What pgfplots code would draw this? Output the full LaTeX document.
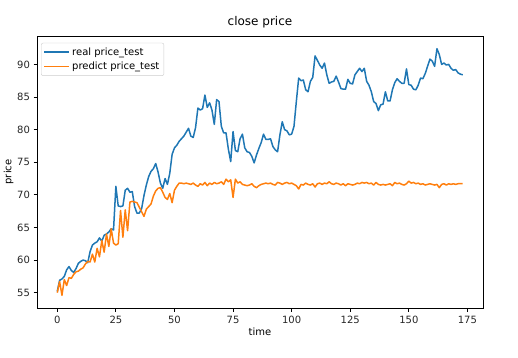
\documentclass[border=0pt]{standalone}
\usepackage{fontspec}
\setmainfont{DejaVu Sans}
\usepackage{pgfplots}
\usepackage{pgfplotstable}
\pgfplotsset{compat=1.18}
\definecolor{cA}{HTML}{1F77B4}
\definecolor{cB}{HTML}{FF7F0E}
\pgfplotstableread{
t real pred
0 55.2 55.0
1 56.9 56.7
2 57.1 54.6
3 57.5 57.0
4 58.5 56.1
5 59.0 57.3
6 58.4 57.2
7 58.1 57.8
8 58.7 58.2
9 59.5 58.3
10 59.8 58.6
11 60.0 58.8
12 59.9 59.4
13 59.6 59.8
14 61.3 59.7
15 62.3 60.9
16 62.6 59.7
17 62.8 61.8
18 63.4 60.5
19 62.9 63.0
20 63.8 61.2
21 64.0 64.0
22 64.3 62.1
23 64.8 64.8
24 64.6 62.6
25 71.3 62.3
26 68.3 62.5
27 68.2 67.6
28 68.3 63.5
29 70.7 67.7
30 71.0 64.5
31 70.4 68.9
32 70.5 69.0
33 68.2 68.9
34 67.2 68.8
35 67.2 68.1
36 67.9 67.4
37 69.9 66.7
38 71.5 67.8
39 72.8 68.2
40 73.6 68.6
41 74.0 69.8
42 74.8 70.6
43 73.5 71.0
44 71.8 71.1
45 71.0 70.4
46 72.5 69.6
47 71.6 69.3
48 73.3 70.2
49 76.2 68.8
50 77.2 70.7
51 77.6 71.3
52 78.2 71.8
53 78.6 71.8
54 79.0 71.7
55 79.6 71.8
56 80.2 71.7
57 79.0 71.6
58 78.8 71.8
59 80.3 71.5
60 83.3 71.3
61 83.0 71.7
62 83.2 71.5
63 85.3 71.9
64 83.4 71.4
65 84.1 71.8
66 83.0 71.6
67 80.8 71.9
68 84.6 71.7
69 84.3 71.8
70 80.5 72.0
71 79.5 71.6
72 79.5 72.4
73 77.0 72.0
74 75.1 72.3
75 79.7 69.6
76 76.8 72.4
77 76.6 71.8
78 78.6 72.0
79 79.3 71.6
80 77.2 71.5
81 76.6 71.4
82 76.5 71.5
83 75.9 71.7
84 74.9 71.3
85 76.1 71.1
86 77.1 71.4
87 78.0 71.6
88 79.3 71.7
89 78.5 71.8
90 78.5 71.7
91 78.6 71.8
92 77.4 71.6
93 76.9 71.5
94 76.6 71.9
95 79.2 71.8
96 81.2 71.6
97 80.0 71.8
98 79.8 71.9
99 79.2 71.7
100 79.3 71.8
101 80.5 71.6
102 84.3 71.4
103 87.9 70.9
104 87.5 71.6
105 87.6 71.5
106 86.1 71.8
107 85.8 71.6
108 87.4 71.5
109 88.0 71.7
110 91.3 71.2
111 90.6 71.7
112 89.9 71.8
113 89.4 71.6
114 90.2 71.8
115 88.4 71.7
116 87.1 72.0
117 87.3 71.7
118 87.4 71.6
119 88.2 71.8
120 87.3 71.7
121 86.3 71.5
122 86.2 71.7
123 86.2 71.4
124 87.7 71.7
125 87.1 71.6
126 87.0 71.5
127 88.4 71.6
128 88.9 71.8
129 89.4 71.7
130 88.9 71.9
131 89.4 71.8
132 87.4 71.9
133 86.8 71.7
134 85.8 71.8
135 84.3 71.5
136 84.0 71.9
137 82.9 71.6
138 83.8 71.5
139 83.9 71.6
140 85.8 71.5
141 84.4 71.6
142 84.4 71.7
143 86.1 71.4
144 87.2 71.9
145 87.8 71.7
146 87.4 71.8
147 87.1 71.6
148 87.1 71.5
149 89.3 71.7
150 86.9 72.1
151 86.8 71.8
152 86.2 71.9
153 86.1 71.7
154 86.8 71.8
155 87.9 71.6
156 87.8 71.7
157 88.6 71.5
158 89.7 71.6
159 90.8 71.7
160 90.5 71.6
161 89.7 71.5
162 92.4 71.6
163 91.5 71.1
164 90.0 71.6
165 90.2 71.7
166 89.9 71.5
167 90.0 71.7
168 89.4 71.6
169 89.1 71.7
170 89.2 71.6
171 88.7 71.7
172 88.5 71.7
173 88.4 71.7
}\datatable
\begin{document}
\begin{tikzpicture}
\path[use as bounding box] (-37pt,-49pt) rectangle (481pt,308pt);
\begin{axis}[
  at={(0,0)}, anchor=south west,
  scale only axis, width=446pt, height=272pt,
  xmin=-8.65, xmax=181.65, ymin=52.65, ymax=94.35,
  xtick={0,25,50,75,100,125,150,175},
  ytick={55,60,65,70,75,80,85,90},
  xtick pos=left, ytick pos=left,
  tick align=outside, major tick length=3.5pt,
  every tick/.style={black, line width=0.8pt},
  axis line style={line width=0.8pt, black},
  /pgf/number format/assume math mode=true,
  ticklabel style={font=\fontsize{10}{12}\selectfont, text=black!85},
  xticklabel style={yshift=-1pt},
  title={close price},
  title style={at={(axis description cs:0.5,1.029)}, anchor=center, font=\fontsize{12}{14}\selectfont},
  xlabel={time},
  xlabel style={at={(axis description cs:0.5,-0.088)}, anchor=center, font=\fontsize{10}{12}\selectfont},
  ylabel={price},
  ylabel style={at={(axis description cs:-0.0639,0.5)}, anchor=center, rotate=0, font=\fontsize{10}{12}\selectfont},
  legend cell align=left,
  legend style={at={(axis description cs:0.009,0.975)}, anchor=north west,
    draw=black!20, rounded corners=2pt, font=\fontsize{10}{12}\selectfont,
    inner sep=2.5pt, row sep=1.5pt},
  legend image code/.code={\draw[#1, line width=1.5pt] (0pt,0pt) -- (20pt,0pt); \path (0pt,0pt) -- (25pt,0pt);},
]
\addplot[cA, line width=1.5pt, line join=round] table[x=t, y=real] {\datatable};
\addlegendentry{real price\_test}
\addplot[cB, line width=1.5pt, line join=round] table[x=t, y=pred] {\datatable};
\addlegendentry{predict price\_test}
\end{axis}
\end{tikzpicture}
\end{document}
